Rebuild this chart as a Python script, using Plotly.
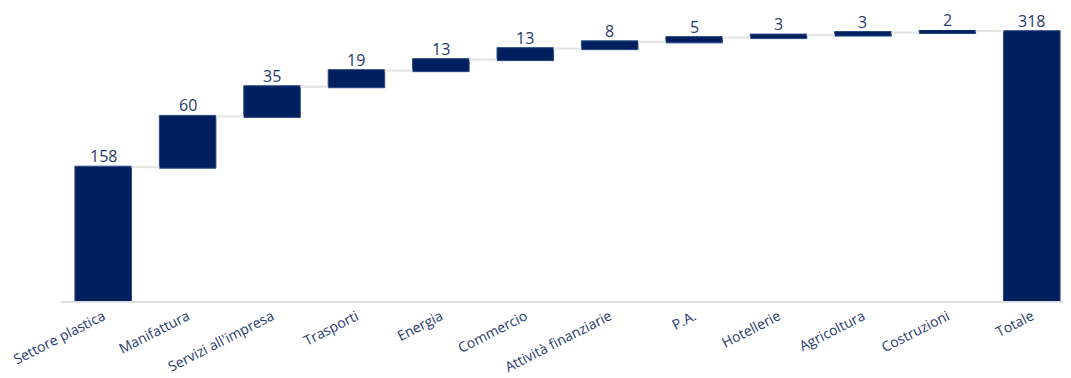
import plotly.graph_objects as go

categories = ["Settore plastica", "Manifattura", "Servizi all'impresa", "Trasporti", "Energia",
              "Commercio", "Attività finanziarie", "P.A.", "Hotellerie", "Agricoltura",
              "Costruzioni", "Totale"]
values = [158, 60, 35, 19, 13, 13, 8, 5, 3, 3, 2, 318]
measures = ["relative"] * 11 + ["absolute"]
labels = [str(v) for v in values]

navy = "#001F5F"
text_col = "#1F3A6E"

fig = go.Figure(go.Waterfall(
    x=categories, y=values, measure=measures,
    increasing=dict(marker=dict(color=navy, line=dict(color="#2A4A85", width=1))),
    decreasing=dict(marker=dict(color=navy)),
    totals=dict(marker=dict(color=navy, line=dict(color="#2A4A85", width=1))),
    connector=dict(line=dict(color="#E3E3E3", width=2)),
    width=0.67,
))

# value labels placed on top of each bar
running = 0
for cat, val, meas, lab in zip(categories, values, measures, labels):
    running = running + val if meas == "relative" else val
    fig.add_annotation(x=cat, y=running, text=lab, showarrow=False,
                       yanchor="bottom", yshift=-2,
                       font=dict(size=16, color=text_col, family="Open Sans"))

fig.update_layout(
    width=1071, height=378,
    margin=dict(l=53, r=5, t=22, b=85),
    plot_bgcolor="white", paper_bgcolor="white",
    showlegend=False,
    font=dict(family="Open Sans", color=text_col),
    xaxis=dict(tickangle=-27, tickfont=dict(size=14, color=text_col),
               showline=True, linecolor="#E0E0E0", linewidth=2, showgrid=False,
               ticks="", automargin=False),
    yaxis=dict(range=[0, 320], visible=False, showgrid=False, zeroline=False,
               automargin=False),
)

fig.write_html("out.html")
